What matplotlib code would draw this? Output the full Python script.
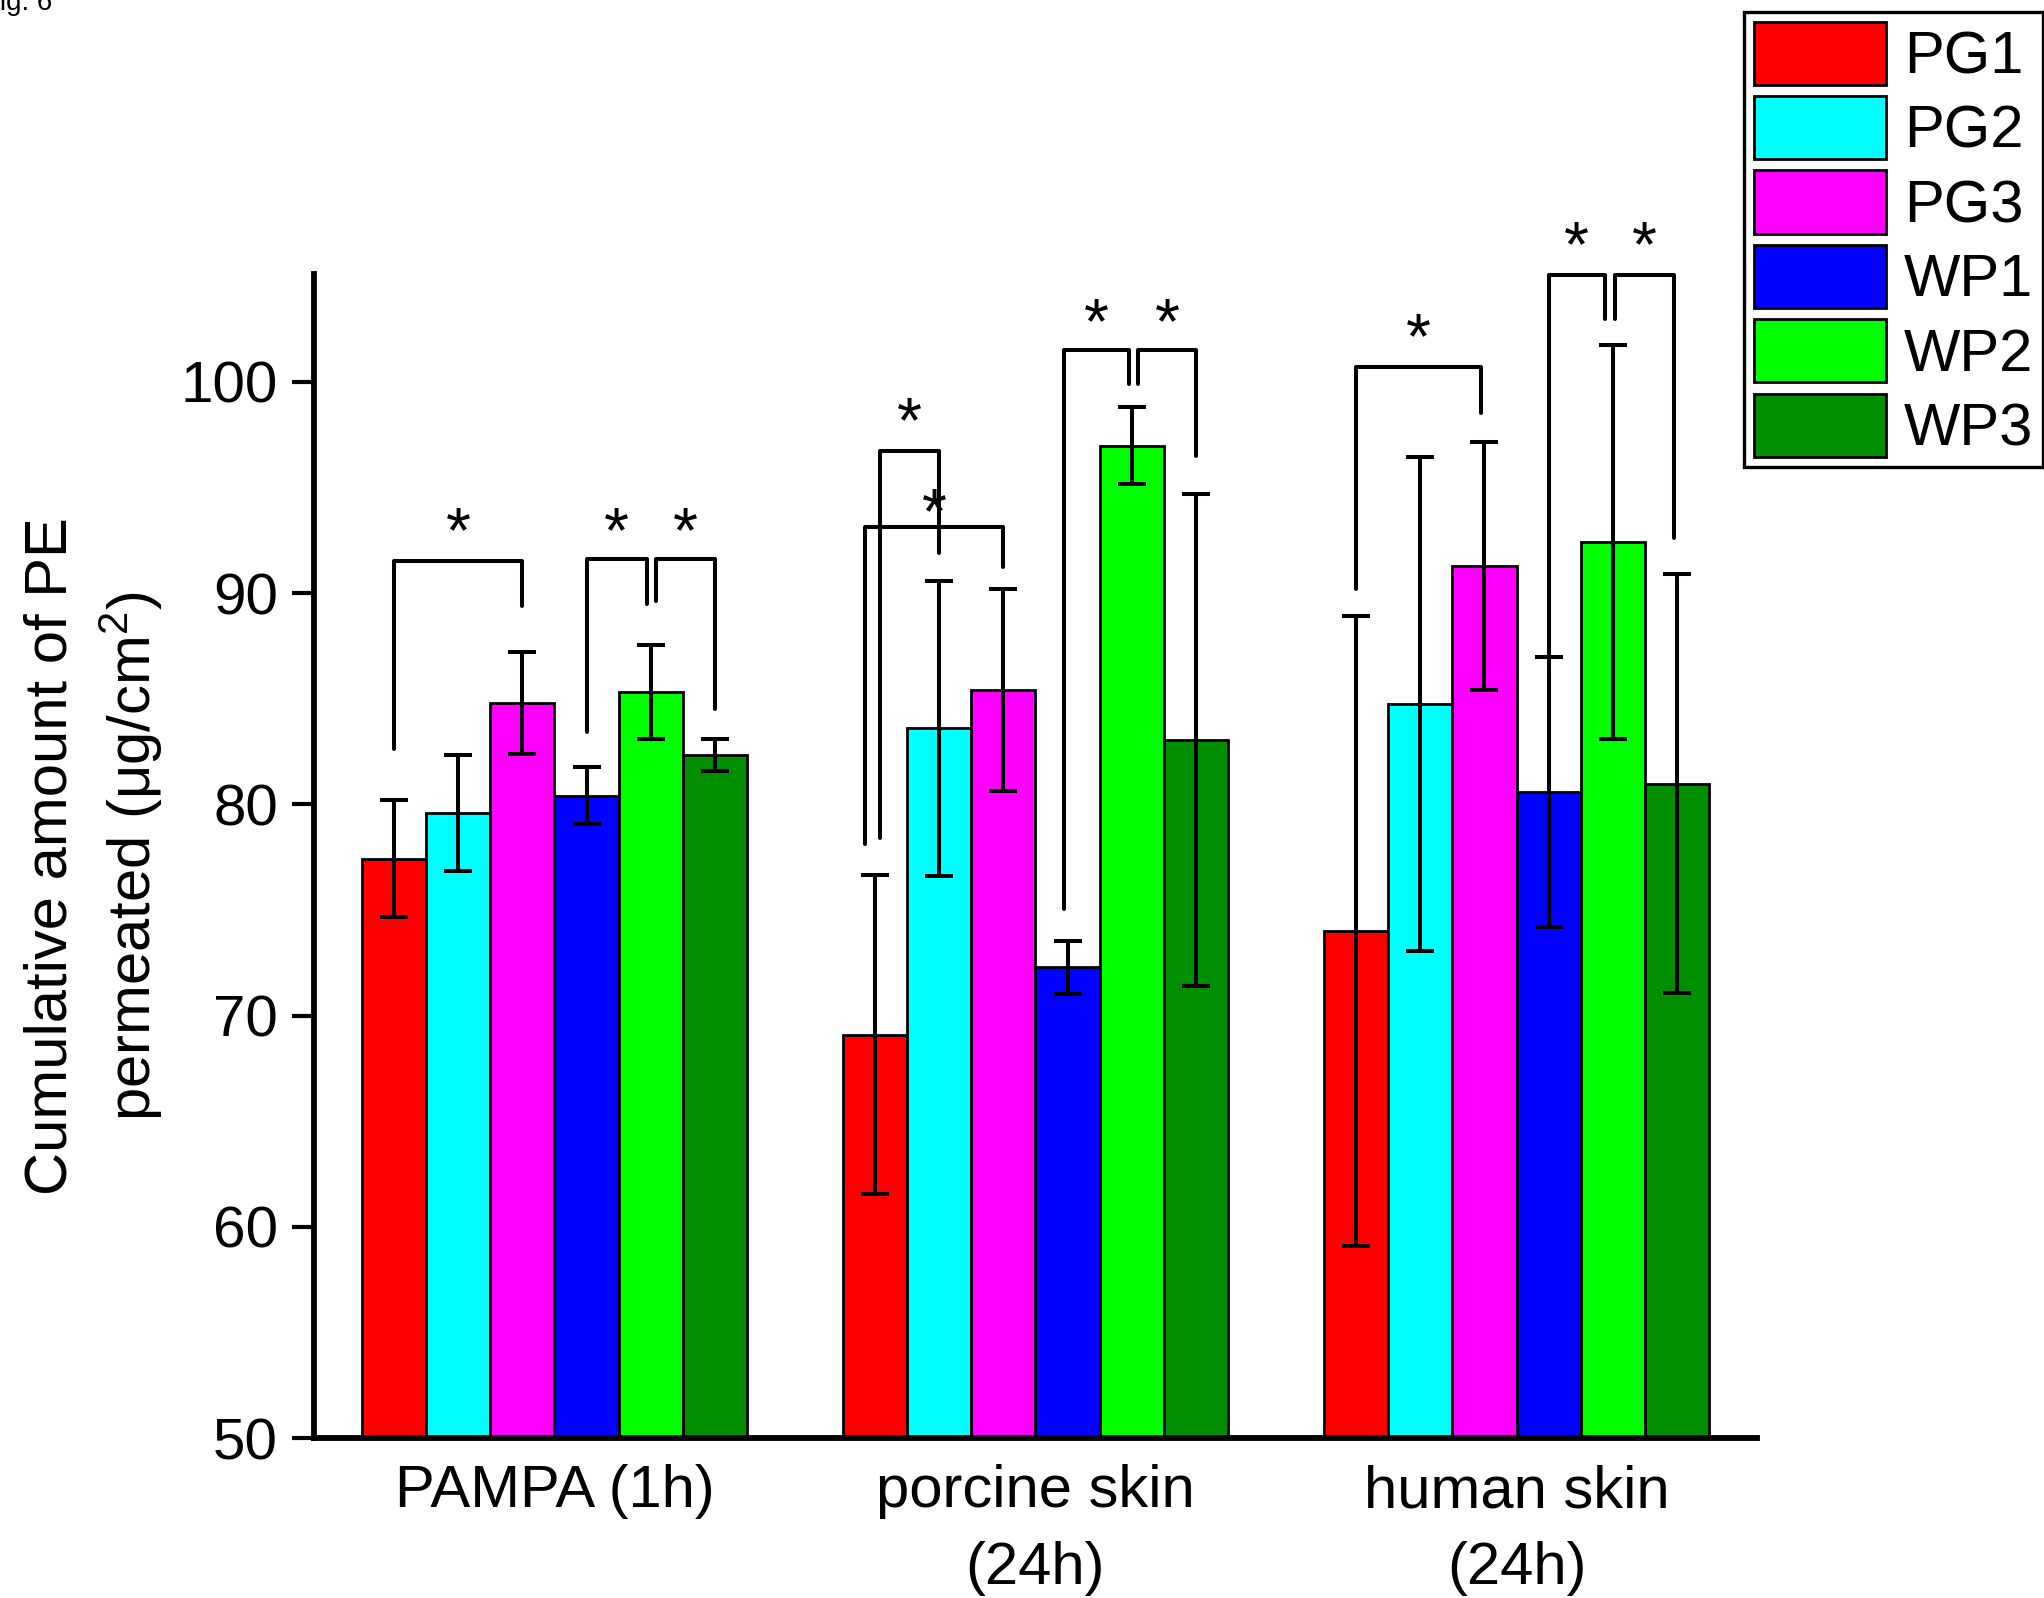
import matplotlib
matplotlib.use("Agg")
import matplotlib.pyplot as plt
import numpy as np

plt.rcParams['font.family'] = ['Liberation Sans', 'DejaVu Sans']
plt.rcParams['mathtext.default'] = 'regular'

groups = ["PAMPA (1h)", "porcine skin\n(24h)", "human skin\n(24h)"]
series = ["PG1", "PG2", "PG3", "WP1", "WP2", "WP3"]
colors = ["#FF0000", "#00FFFF", "#FF00FF", "#0000FF", "#00FF00", "#008F00"]

# mean values per series, one per group
PG1 = [77.43, 69.10, 74.00]
PG2 = [79.58, 83.59, 84.75]
PG3 = [84.78, 85.41, 91.27]
WP1 = [80.41, 72.28, 80.57]
WP2 = [85.31, 96.97, 92.43]
WP3 = [82.33, 83.05, 80.98]

# standard deviations
PG1_err = [2.76, 7.55, 14.90]
PG2_err = [2.73, 6.97, 11.70]
PG3_err = [2.42, 4.78, 5.87]
WP1_err = [1.36, 1.25, 6.38]
WP2_err = [2.22, 1.83, 9.33]
WP3_err = [0.75, 11.65, 9.93]

means = [PG1, PG2, PG3, WP1, WP2, WP3]
errs = [PG1_err, PG2_err, PG3_err, WP1_err, WP2_err, WP3_err]

# significance brackets: group, bar a, bar b, top, leg a end, leg b end, star level, leg offsets
brackets = [
    (0, 0, 2, 91.5, 82.6, 89.4, 93.7, 0.0, 0.0),
    (0, 3, 4, 91.6, 83.4, 89.5, 93.7, 0.0, -0.008),
    (0, 4, 5, 91.6, 89.6, 84.5, 93.7, 0.012, 0.0),
    (1, 0, 1, 96.72, 78.4, 91.9, 98.9, 0.01, 0.0),
    (1, 0, 2, 93.11, 78.1, 91.25, 94.57, -0.022, 0.0),
    (1, 3, 4, 101.5, 75.03, 99.89, 103.6, -0.008, -0.006),
    (1, 4, 5, 101.5, 99.89, 96.5, 103.6, 0.014, 0.0),
    (2, 0, 2, 100.69, 90.2, 98.52, 102.86, 0.0, -0.008),
    (2, 3, 4, 105.07, 86.55, 102.98, 107.2, 0.0, -0.017),
    (2, 4, 5, 105.07, 102.98, 92.6, 107.2, 0.005, -0.006),
]

fig = plt.figure(figsize=(20.44, 15.98), dpi=100)
ax = fig.add_axes([0.1536, 0.1001, 0.7060, 0.7284])

x = np.arange(len(groups))
width = 0.8 / len(series)

for i, name in enumerate(series):
    pos = x + (i - 2.5) * width
    ax.bar(pos, np.array(means[i]) - 50, width, bottom=50, color=colors[i],
           edgecolor='black', linewidth=2.0, label=name, zorder=2,
           yerr=errs[i], error_kw=dict(elinewidth=2.9, capsize=10, capthick=2.9,
                                       ecolor='black', zorder=3))

for g, a, b, top, ya, yb, ystar, da, db in brackets:
    xa = g + (a - 2.5) * width + da
    xb = g + (b - 2.5) * width + db
    ax.plot([xa, xa, xb, xb], [ya, top, top, yb], color='black', lw=2.9,
            clip_on=False, zorder=4, solid_capstyle='round')
    ax.text((xa + xb) / 2, ystar - 1.75, "*", ha='center', va='baseline',
            fontsize=46, clip_on=False)

ax.set_xlim(-0.5, 2.5)
ax.set_ylim(50, 105.1)
ax.set_yticks([50, 60, 70, 80, 90, 100])
ax.set_xticks(x)
ax.set_xticklabels(groups, fontsize=43, linespacing=1.5)
ax.tick_params(axis='x', length=0, pad=19)
ax.tick_params(axis='y', labelsize=42, length=16, width=3, pad=10)

for side in ['top', 'right']:
    ax.spines[side].set_visible(False)
for side in ['left', 'bottom']:
    ax.spines[side].set_linewidth(4.2)

ax.set_ylabel("Cumulative amount of PE\npermeated (μg/cm$^{2}$)", fontsize=43,
              linespacing=1.35)
ax.yaxis.set_label_coords(-0.1035, 0.5)

leg = ax.legend(loc='upper right', bbox_to_anchor=(0.9995, 0.9925),
                bbox_transform=fig.transFigure, fontsize=43, frameon=True,
                fancybox=False, edgecolor='black', framealpha=1,
                handlelength=2.22, handleheight=1.25, labelspacing=0.18,
                handletextpad=0.3, borderpad=0.16, borderaxespad=0)
leg.get_frame().set_linewidth(2.4)

fig.text(-0.0085, 0.9937, "Fig. 6", fontsize=20, ha='left', va='baseline')

fig.savefig("out.png", dpi=100)
